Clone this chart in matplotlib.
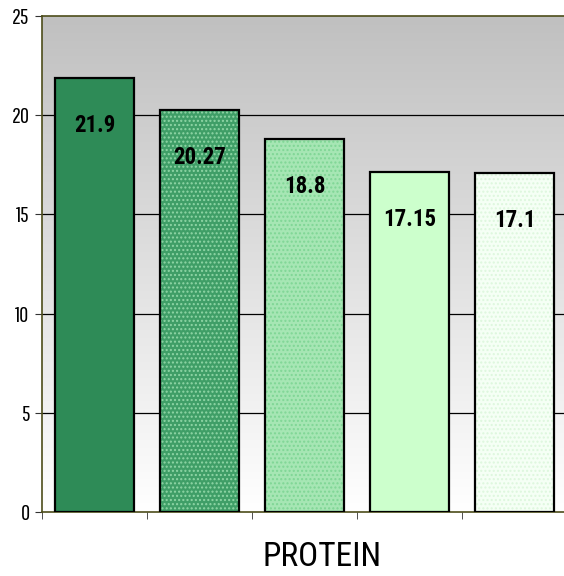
import numpy as np
import matplotlib
matplotlib.use("Agg")
import matplotlib.pyplot as plt
from matplotlib.colors import LinearSegmentedColormap

categories = ["1", "2", "3", "4", "5"]
values = [21.9, 20.27, 18.8, 17.15, 17.1]
labels = ["21.9", "20.27", "18.8", "17.15", "17.1"]
yticks = [0, 5, 10, 15, 20, 25]
xlabel = "PROTEIN"

face_colors = ["#2e8b57", "#3f9e67", "#a6e6b4", "#ccffcc", "#f5fff5"]
hatch_colors = ["#2e8b57", "#8fd6a6", "#7fd695", "#ccffcc", "#ddf7dd"]
hatches = [None, "....", "....", None, "...."]

reg_fam = ["Pathway Gothic One", "Roboto Condensed", "DejaVu Sans"]
bold_fam = ["Roboto Condensed", "DejaVu Sans"]
title_fam = ["Roboto Condensed", "DejaVu Sans"]

fig = plt.figure(figsize=(5.64, 5.76), dpi=100)
ax = fig.add_axes([42/564, 64/576, 525/564, 496/576])

grad = np.linspace(0, 1, 256).reshape(-1, 1)
cmap = LinearSegmentedColormap.from_list("bg", ["#ffffff", "#c0c0c0"])
ax.imshow(grad, aspect="auto", cmap=cmap, extent=[-0.5, 4.5, 0, 25],
          origin="lower", zorder=0)

ax.set_xlim(-0.5, 4.5)
ax.set_ylim(0, 25)

for y in yticks[1:-1]:
    ax.axhline(y, color="black", lw=0.9, zorder=1)

x = np.arange(len(values))
w = 0.76
plt.rcParams["hatch.linewidth"] = 1.0
for i in range(len(values)):
    ax.bar(x[i], values[i], width=w, color=face_colors[i], edgecolor=hatch_colors[i],
           hatch=hatches[i], linewidth=0, zorder=2)
    ax.bar(x[i], values[i], width=w, fill=False, edgecolor="black", linewidth=1.6, zorder=3)
    ax.text(x[i], values[i] - 2.4, labels[i], ha="center", va="center",
            fontsize=16.5, fontweight="bold", family=bold_fam, zorder=4)

ax.set_yticks(yticks)
ax.set_yticklabels([str(t) for t in yticks], family=reg_fam, fontsize=16)
ax.set_xticks([])
ax.set_xticks(np.arange(-0.5, 5, 1), minor=True)
ax.tick_params(axis="x", which="minor", length=5, color="#333333", direction="out")
ax.tick_params(axis="y", length=5, color="#333333", pad=4)
for s in ["left", "top", "bottom"]:
    ax.spines[s].set_color("#4d4d1a")
    ax.spines[s].set_linewidth(1.2)
ax.spines["right"].set_visible(False)

fig.text(322/564, 1 - 557/576, xlabel, ha="center", va="center", family=title_fam, fontsize=24)

fig.savefig("out.png", dpi=100)
